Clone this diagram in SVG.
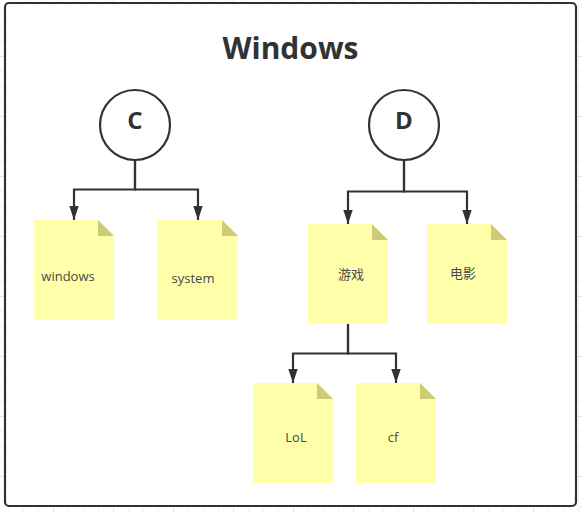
<svg xmlns="http://www.w3.org/2000/svg" width="582" height="512" viewBox="0 0 582 512">
<defs>
<pattern id="g1" width="15" height="15" x="8" y="11" patternUnits="userSpaceOnUse"><path d="M0.5 0V15M0 0.5H15" fill="none" stroke="#f2f2f2" stroke-width="1"/></pattern>
<pattern id="g2" width="60" height="60" x="53" y="56" patternUnits="userSpaceOnUse"><path d="M0.5 0V60M0 0.5H60" fill="none" stroke="#e6e6e6" stroke-width="1"/></pattern>
<marker id="arrow" markerUnits="userSpaceOnUse" markerWidth="14" markerHeight="10" refX="14" refY="5" orient="auto"><path d="M0 0.300L14 5L0 9.700Z" fill="#323232"/></marker>
</defs>
<style>
.note{fill:#ffffaa}
.fold{fill:#cccc77}
.circle{fill:#fff;stroke:#323232;stroke-width:2.2}
.conn{fill:none;stroke:#323232;stroke-width:2.200;marker-end:url(#arrow)}
text{font-family:"Open Sans","Noto Sans CJK SC",sans-serif;fill:#323232}
.t{font-size:13px;text-anchor:middle;fill:#484848}
.h{font-size:24px;font-weight:700;text-anchor:middle}
</style>
<rect width="582" height="512" fill="#fff"/>
<rect width="582" height="512" fill="url(#g1)"/>
<rect width="582" height="512" fill="url(#g2)"/>
<g id="frame">
<rect x="5" y="3" width="571" height="503" rx="4" fill="#fff" stroke="#323232" stroke-width="2.200"/>
<text x="290.500" y="59" text-anchor="middle" style="font-size:30px;font-weight:700">Windows</text>
</g>
<g id="connectors">
<path class="conn" d="M135 160V189.500H74V220"/>
<path class="conn" d="M135 160V189.500H198V220"/>
<path class="conn" d="M404 160V191.500H348V224"/>
<path class="conn" d="M404 160V191.500H467V224"/>
<path class="conn" d="M348 324V353.500H293V383"/>
<path class="conn" d="M348 324V353.500H396V383"/>
</g>
<g id="node-c"><circle class="circle" cx="135" cy="125" r="35"/><text class="h" x="135" y="129">C</text></g>
<g id="node-d"><circle class="circle" cx="404" cy="125" r="35"/><text class="h" x="404" y="129">D</text></g>
<g id="note-windows"><path class="note" d="M34 220H98L114 236V320H34Z"/><path class="fold" d="M98 220L114 236H98Z"/><text class="t" x="68" y="281">windows</text></g>
<g id="note-system"><path class="note" d="M158 220H222L238 236V320H158Z"/><path class="fold" d="M222 220L238 236H222Z"/><text class="t" x="193" y="283">system</text></g>
<g id="note-youxi"><path class="note" d="M308 224H372L388 240V324H308Z"/><path class="fold" d="M372 224L388 240H372Z"/><text class="t" x="351" y="279">游戏</text></g>
<g id="note-dianying"><path class="note" d="M427 224H491L507 240V324H427Z"/><path class="fold" d="M491 224L507 240H491Z"/><text class="t" x="463" y="278">电影</text></g>
<g id="note-lol"><path class="note" d="M253 383H317L333 399V483H253Z"/><path class="fold" d="M317 383L333 399H317Z"/><text class="t" x="296" y="442">LoL</text></g>
<g id="note-cf"><path class="note" d="M356 383H420L436 399V483H356Z"/><path class="fold" d="M420 383L436 399H420Z"/><text class="t" x="393" y="442">cf</text></g>
</svg>
